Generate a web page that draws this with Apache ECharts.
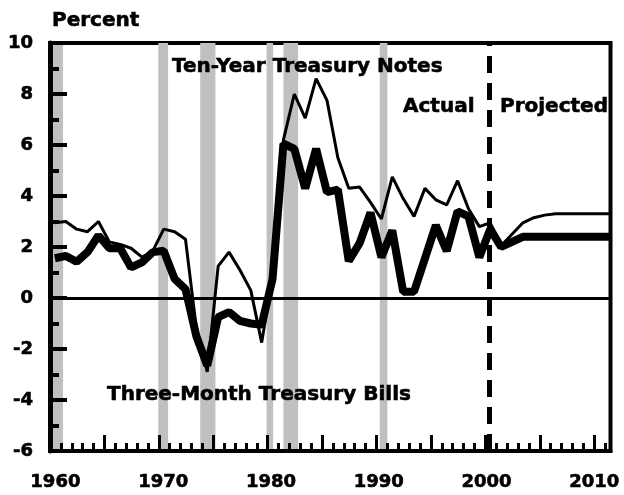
<!DOCTYPE html>
<html>
<head>
<meta charset="utf-8">
<script src="https://cdn.jsdelivr.net/npm/echarts@6/dist/echarts.min.js"></script>
<style>
html, body { margin: 0; padding: 0; background: #fff; }
#chart { width: 624px; height: 495px; }
</style>
</head>
<body>
<div id="chart"></div>
<script>
var years = [1960, 1961, 1962, 1963, 1964, 1965, 1966, 1967, 1968, 1969,
    1970, 1971, 1972, 1973, 1974, 1975, 1976, 1977, 1978, 1979,
    1980, 1981, 1982, 1983, 1984, 1985, 1986, 1987, 1988, 1989,
    1990, 1991, 1992, 1993, 1994, 1995, 1996, 1997, 1998, 1999,
    2000, 2001, 2002, 2003, 2004, 2005, 2006, 2007, 2008, 2009,
    2010, 2011];

// real ten-year note rate, percent
var tenYear = [2.95, 3.0, 2.7, 2.6, 3.0, 2.2, 2.1, 1.95, 1.6, 1.85,
    2.7, 2.6, 2.3, -1.2, -2.9, 1.25, 1.8, 1.1, 0.3, -1.75,
    0.85, 6.2, 8.0, 7.05, 8.6, 7.75, 5.5, 4.3, 4.35, 3.75,
    3.1, 4.75, 3.9, 3.2, 4.3, 3.85, 3.65, 4.6, 3.5, 2.8,
    2.95, 2.05, 2.5, 2.95, 3.15, 3.25, 3.3, 3.3, 3.3, 3.3,
    3.3, 3.3];

// real three-month bill rate, percent
var threeMonth = [1.56, 1.65, 1.42, 1.8, 2.45, 1.95, 1.95, 1.2, 1.4, 1.8,
    1.85, 0.75, 0.35, -1.5, -2.65, -0.75, -0.55, -0.9, -1.0, -1.05,
    0.75, 6.05, 5.85, 4.3, 5.85, 4.15, 4.25, 1.45, 2.15, 3.35,
    1.6, 2.65, 0.25, 0.25, 1.55, 2.85, 1.85, 3.4, 3.2, 1.6,
    2.7, 2.0, 2.2, 2.4, 2.4, 2.4, 2.4, 2.4, 2.4, 2.4,
    2.4, 2.4];

var recessions = [[1960.25, 1961.2], [1969.95, 1970.85], [1973.8, 1975.2],
    [1979.9, 1980.5], [1981.45, 1982.8], [1990.3, 1991.0]];

var projStart = 2000.35;

var font = '"DejaVu Sans", sans-serif';

function pairs(vals) {
    return years.map(function(y, i) {
        return [y + 0.45, vals[i]];
    });
}

function note(text, x, y) {
    return {
        type: 'text', x: x, y: y, z: 100,
        style: {
            text: text, font: 'bold 20px ' + font, fill: '#000',
            stroke: '#000', lineWidth: 0.6, verticalAlign: 'middle'
        }
    };
}

var chart = echarts.init(document.getElementById('chart'));

var labelStyle = {
    color: '#000',
    fontFamily: font,
    fontWeight: 'bold',
    fontSize: 18,
    textBorderColor: '#000',
    textBorderWidth: 0.6
};

var option = {
    animation: false,
    backgroundColor: '#fff',
    grid: {
        left: 50,
        right: 13.5,
        top: 43,
        bottom: 44,
        show: true,
        borderColor: '#000',
        borderWidth: 4,
        backgroundColor: 'transparent'
    },
    xAxis: [{
        type: 'value',
        position: 'bottom',
        z: 10,
        min: 1960,
        max: 2011.5,
        interval: 1,
        axisLine: { show: true, onZero: false, lineStyle: { color: '#000', width: 4 } },
        axisTick: { show: true, inside: true, length: 8, lineStyle: { color: '#000', width: 3 } },
        axisLabel: { show: false },
        splitLine: { show: false }
    }, {
        type: 'value',
        position: 'bottom',
        z: 10,
        min: 1960,
        max: 2011.5,
        interval: 5,
        axisLine: { show: false, onZero: false },
        axisTick: { show: true, inside: true, length: 16, lineStyle: { color: '#000', width: 3 } },
        axisLabel: { show: false },
        splitLine: { show: false }
    }, {
        type: 'category',
        position: 'bottom',
        z: 10,
        data: years,
        boundaryGap: true,
        axisLine: { show: false, onZero: false },
        axisTick: { show: false },
        splitLine: { show: false },
        axisLabel: Object.assign({ interval: 9, margin: 22 }, labelStyle)
    }],
    yAxis: {
        type: 'value',
        z: 10,
        min: -6,
        max: 10,
        interval: 2,
        axisLine: { show: true, onZero: false, lineStyle: { color: '#000', width: 5 } },
        axisTick: { show: true, inside: true, length: 17, lineStyle: { color: '#000', width: 4 } },
        minorTick: { show: true, splitNumber: 2, length: 9, lineStyle: { color: '#000', width: 4 } },
        splitLine: { show: false },
        minorSplitLine: { show: false },
        axisLabel: Object.assign({ margin: 17 }, labelStyle)
    },
    graphic: [
        note('Percent', 52, 21),
        note('Ten-Year Treasury Notes', 172, 67),
        note('Actual', 403, 107),
        note('Projected', 500, 107),
        note('Three-Month Treasury Bills', 107, 395)
    ],
    series: [{
        name: 'recessions',
        type: 'line',
        data: [],
        z: 1,
        silent: true,
        markArea: {
            silent: true,
            itemStyle: { color: '#c0c0c0', opacity: 1 },
            data: recessions.map(function(r) {
                return [{ xAxis: r[0] }, { xAxis: r[1] }];
            })
        }
    }, {
        name: 'Ten-Year Treasury Notes',
        type: 'line',
        data: pairs(tenYear),
        z: 3,
        symbol: 'none',
        lineStyle: { color: '#000', width: 3 },
        markLine: {
            silent: true,
            symbol: 'none',
            label: { show: false },
            data: [
                { yAxis: 0, lineStyle: { color: '#000', width: 3, type: 'solid' } },
                { xAxis: projStart, lineStyle: { color: '#000', width: 5, type: [17, 10] } }
            ]
        }
    }, {
        name: 'Three-Month Treasury Bills',
        type: 'line',
        data: pairs(threeMonth),
        z: 4,
        symbol: 'none',
        lineStyle: { color: '#000', width: 8 }
    }]
};

chart.setOption(option);
</script>
</body>
</html>
